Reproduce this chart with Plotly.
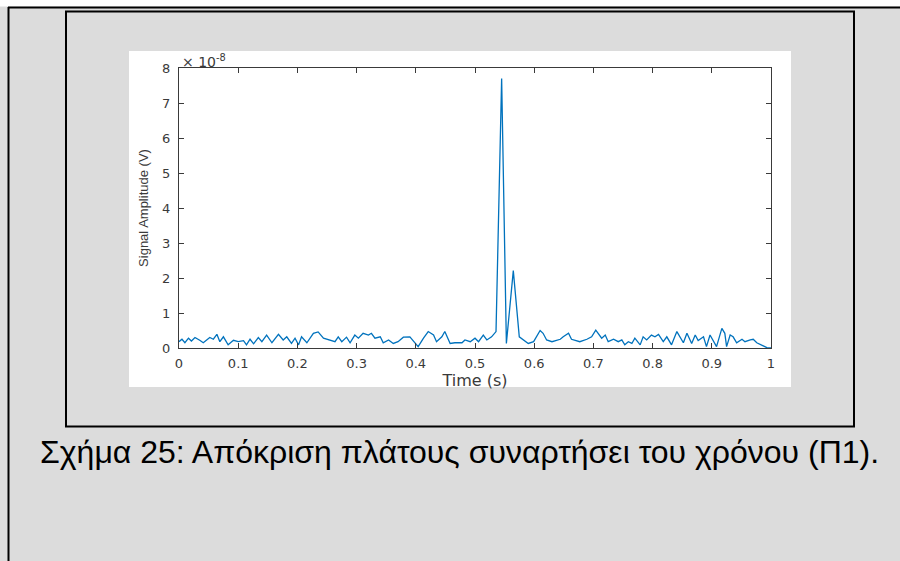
import plotly.graph_objects as go

# Time samples (s) of the received signal
time_s = [
    0.000, 0.005, 0.010, 0.016, 0.021, 0.027, 0.035, 0.041, 0.052, 0.058,
    0.064, 0.069, 0.075, 0.083, 0.092, 0.100, 0.109, 0.114, 0.120, 0.126,
    0.134, 0.140, 0.148, 0.157, 0.168, 0.176, 0.182, 0.190, 0.196, 0.202,
    0.207, 0.216, 0.227, 0.235, 0.244, 0.255, 0.2635, 0.269, 0.275, 0.283,
    0.289, 0.297, 0.303, 0.311, 0.320, 0.325, 0.331, 0.340, 0.345, 0.354,
    0.362, 0.370, 0.379, 0.390, 0.399, 0.404, 0.413, 0.421, 0.430, 0.435,
    0.444, 0.449, 0.458, 0.466, 0.478, 0.483, 0.492, 0.500, 0.506, 0.514,
    0.520, 0.528, 0.5355, 0.545, 0.553, 0.5647, 0.5748, 0.5816, 0.590, 0.599,
    0.604, 0.610, 0.615, 0.621, 0.630, 0.638, 0.644, 0.649, 0.658, 0.663,
    0.672, 0.677, 0.689, 0.697, 0.704, 0.708, 0.714, 0.720, 0.725, 0.734,
    0.742, 0.748, 0.753, 0.759, 0.765, 0.770, 0.779, 0.784, 0.790, 0.798,
    0.804, 0.810, 0.818, 0.824, 0.832, 0.841, 0.846, 0.852, 0.858, 0.866,
    0.872, 0.877, 0.886, 0.891, 0.897, 0.903, 0.908, 0.917, 0.922, 0.925,
    0.931, 0.936, 0.942, 0.951, 0.956, 0.965, 0.970, 0.976, 0.984, 0.993,
    1.000,
]

# Signal amplitude in units of 1e-8 V
amplitude_e8 = [
    0.18, 0.25, 0.15, 0.28, 0.20, 0.30, 0.22, 0.15, 0.30, 0.25,
    0.39, 0.18, 0.32, 0.09, 0.22, 0.18, 0.21, 0.09, 0.25, 0.12,
    0.30, 0.18, 0.37, 0.15, 0.39, 0.23, 0.32, 0.13, 0.28, 0.09,
    0.32, 0.15, 0.42, 0.46, 0.28, 0.23, 0.18, 0.32, 0.18, 0.31,
    0.15, 0.37, 0.28, 0.42, 0.37, 0.42, 0.28, 0.32, 0.15, 0.23,
    0.13, 0.18, 0.31, 0.32, 0.13, 0.04, 0.28, 0.47, 0.37, 0.18,
    0.32, 0.47, 0.13, 0.15, 0.15, 0.23, 0.18, 0.28, 0.18, 0.37,
    0.23, 0.32, 0.47, 7.70, 0.13, 2.21, 0.32, 0.23, 0.13, 0.18,
    0.32, 0.50, 0.42, 0.23, 0.18, 0.23, 0.25, 0.32, 0.42, 0.25,
    0.21, 0.18, 0.25, 0.32, 0.51, 0.42, 0.28, 0.37, 0.18, 0.25,
    0.18, 0.23, 0.09, 0.18, 0.13, 0.28, 0.09, 0.32, 0.23, 0.37,
    0.32, 0.39, 0.18, 0.32, 0.09, 0.47, 0.32, 0.15, 0.42, 0.13,
    0.37, 0.21, 0.32, 0.04, 0.37, 0.18, 0.04, 0.56, 0.42, 0.04,
    0.37, 0.32, 0.15, 0.25, 0.18, 0.23, 0.25, 0.15, 0.09, 0.01,
    0.00,
]

x_ticks = [0, 0.1, 0.2, 0.3, 0.4, 0.5, 0.6, 0.7, 0.8, 0.9, 1]
y_ticks = [0, 1, 2, 3, 4, 5, 6, 7, 8]

caption = "Σχήμα 25: Απόκριση πλάτους συναρτήσει του χρόνου (Π1)."

W, H = 900, 561
PL, PR, PT, PB = 179, 771, 68, 348   # plot area in pixels


def px(X):
    return (X - PL) / (PR - PL)


def py(Y):
    return (PB - Y) / (PB - PT)


AX = "#3a3a3a"
TICK_FONT = dict(family="DejaVu Sans", size=13, color=AX)

fig = go.Figure()
fig.add_trace(go.Scatter(
    x=time_s, y=amplitude_e8, mode="lines",
    line=dict(color="#0072BD", width=1.3),
    hoverinfo="skip", showlegend=False,
))

shapes = [
    # white strip along the top of the page
    dict(type="rect", xref="paper", yref="paper", x0=px(0), x1=px(W),
         y0=py(0), y1=py(6.5), fillcolor="white", line_width=0, layer="below"),
    # white figure canvas
    dict(type="rect", xref="paper", yref="paper", x0=px(129), x1=px(791),
         y0=py(51), y1=py(387), fillcolor="white", line_width=0, layer="below"),
    # page frame (top and left edges)
    dict(type="line", xref="paper", yref="paper", x0=px(8), x1=px(W),
         y0=py(7.5), y1=py(7.5), line=dict(color="black", width=2)),
    dict(type="line", xref="paper", yref="paper", x0=px(8.5), x1=px(8.5),
         y0=py(7), y1=py(H), line=dict(color="black", width=2)),
    # frame around the figure
    dict(type="rect", xref="paper", yref="paper", x0=px(66), x1=px(854),
         y0=py(11.5), y1=py(426.5), line=dict(color="black", width=2)),
]

fig.update_layout(
    width=W, height=H,
    margin=dict(l=PL, r=W - PR, t=PT, b=H - PB, pad=0),
    paper_bgcolor="#dcdcdc", plot_bgcolor="white",
    shapes=shapes,
    xaxis=dict(
        range=[0, 1], tickvals=x_ticks, ticks="inside", ticklen=5,
        tickcolor=AX, showline=True, linecolor=AX, linewidth=1,
        mirror="ticks", showgrid=False, zeroline=False,
        tickfont=TICK_FONT, ticklabelstandoff=3,
        title=dict(text="Time (s)", standoff=2,
                   font=dict(family="DejaVu Sans", size=16, color=AX)),
    ),
    yaxis=dict(
        range=[0, 8], tickvals=y_ticks, ticks="inside", ticklen=5,
        tickcolor=AX, showline=True, linecolor=AX, linewidth=1,
        mirror="ticks", showgrid=False, zeroline=False,
        tickfont=TICK_FONT, ticklabelstandoff=5,
        title=dict(text="Signal Amplitude (V)", standoff=10,
                   font=dict(family="Liberation Sans Narrow, Liberation Sans", size=13, color=AX)),
    ),
    annotations=[
        dict(text="× 10<sup>-8</sup>", xref="paper", yref="paper",
             x=px(180), y=py(61), xanchor="left", yanchor="middle",
             showarrow=False, font=dict(family="DejaVu Sans", size=14, color=AX)),
        dict(text=caption, xref="paper", yref="paper",
             x=px(459.5), y=py(452), xanchor="center", yanchor="middle",
             showarrow=False, font=dict(family="Liberation Sans", size=32, color="black")),
    ],
)

fig.write_html("out.html")
